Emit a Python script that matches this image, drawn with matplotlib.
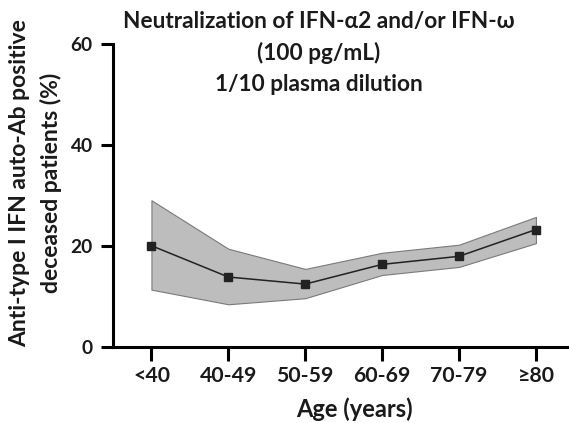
import matplotlib
matplotlib.use("Agg")
import matplotlib.pyplot as plt

categories = ["<40", "40-49", "50-59", "60-69", "70-79", "≥80"]
values = [20.0, 13.8, 12.4, 16.3, 17.9, 23.2]
upper = [29.0, 19.4, 15.4, 18.6, 20.2, 25.7]
lower = [11.3, 8.4, 9.6, 14.2, 15.8, 20.5]
yticks = [0, 20, 40, 60]

plt.rcParams['font.family'] = ['Lato', 'DejaVu Sans']
plt.rcParams['font.weight'] = 'bold'
TXT = "#1a1a1a"

W, H = 569, 423
fig = plt.figure(figsize=(W / 100, H / 100), dpi=100)
ax = fig.add_axes([113 / W, 1 - 346.7 / H, (W - 113) / W, 303 / H])
x = list(range(len(categories)))
ax.fill_between(x, lower, upper, facecolor="#bdbdbd", edgecolor="#7a7a7a", linewidth=0.8)
ax.plot(x, values, color="#222222", linewidth=1.1, marker="s", markersize=5.5,
        markerfacecolor="#222222", markeredgecolor="#222222")

ax.set_xlim(-0.5, 5.43)
ax.set_ylim(0, 60)
ax.set_xticks(x)
ax.set_xticklabels(categories, fontsize=15.3, fontweight='bold', color=TXT)
ax.set_yticks(yticks)
ax.set_yticklabels([str(t) for t in yticks], fontsize=13.8, fontweight='bold', color=TXT)
for s in ["top", "right"]:
    ax.spines[s].set_visible(False)
for s in ["left", "bottom"]:
    ax.spines[s].set_linewidth(2.2)
ax.tick_params(axis='x', length=10, width=2.2, pad=4)
ax.tick_params(axis='y', length=8.5, width=2.2, pad=6)

fig.text(354 / W, 1 - 409 / H, "Age (years)", ha='center', va='center',
         fontsize=17, fontweight='bold', color=TXT)
fig.text(35.5 / W, 1 - 183 / H, "Anti-type I IFN auto-Ab positive\ndeceased patients (%)",
         rotation=90, ha='center', va='center', fontsize=16.5, fontweight='bold',
         color=TXT, linespacing=1.55, multialignment='center')
fig.text(319 / W, 1 - 53 / H, "Neutralization of IFN-α2 and/or IFN-ω\n(100 pg/mL)\n1/10 plasma dilution",
         ha='center', va='center', fontsize=16.3, fontweight='bold', color=TXT,
         linespacing=1.55, multialignment='center')
fig.savefig("out.png", dpi=100)
